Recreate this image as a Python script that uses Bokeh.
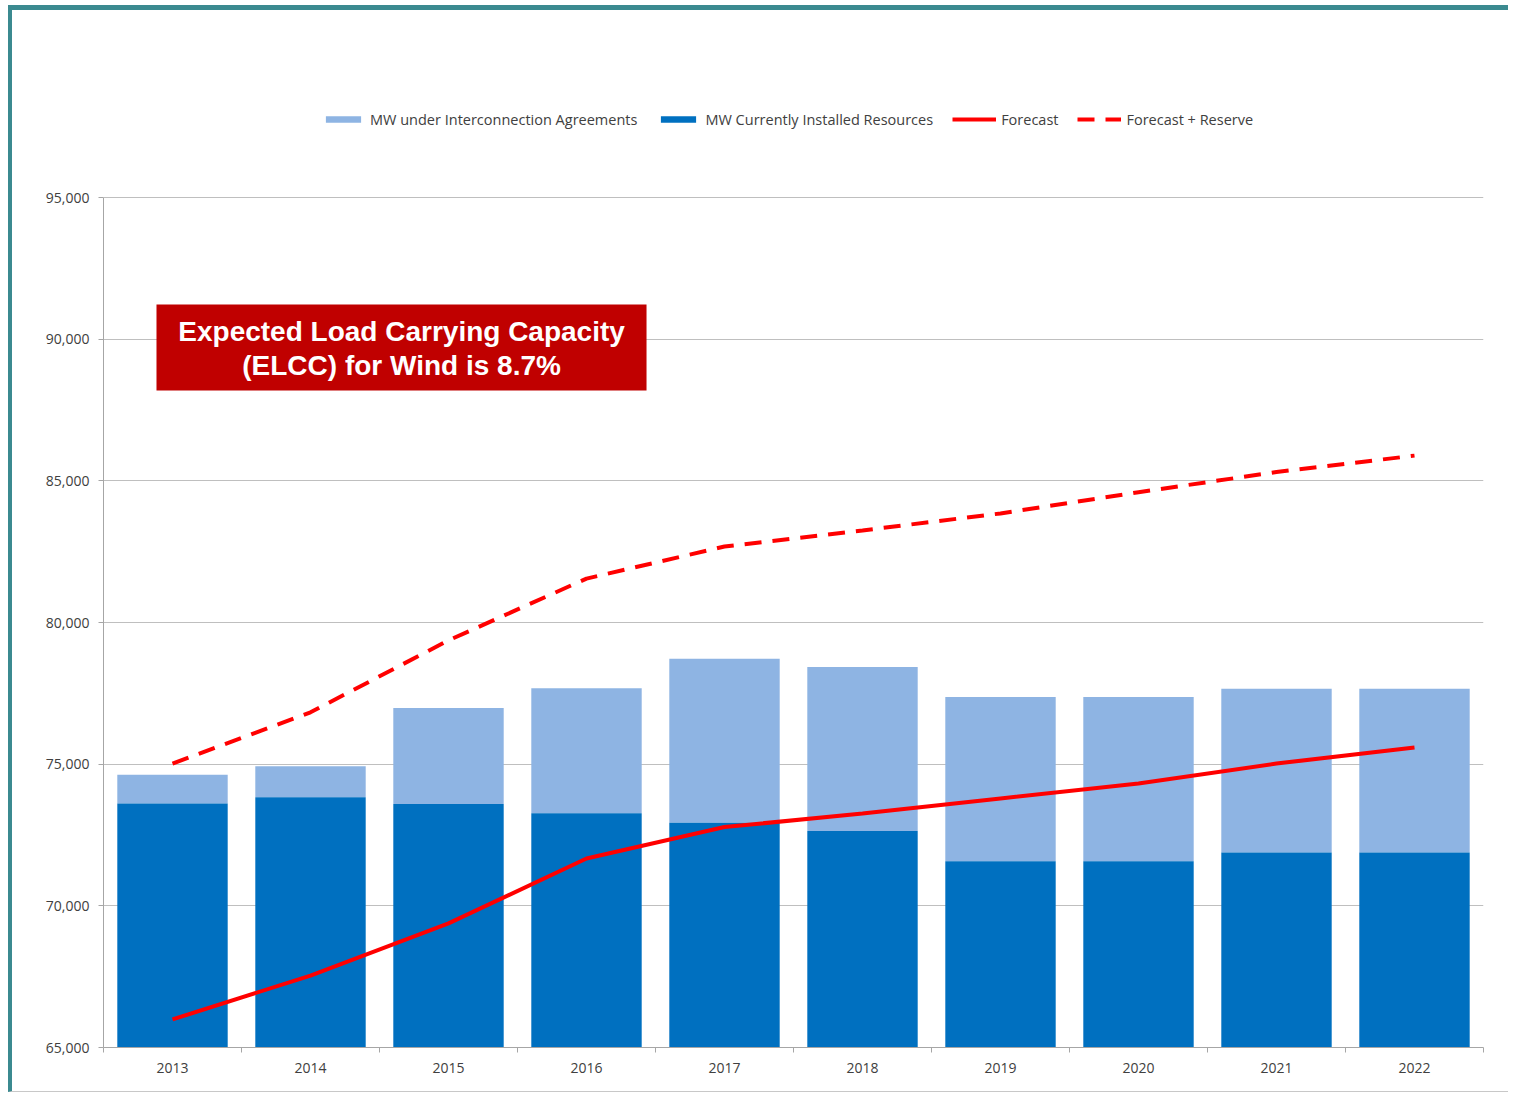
from bokeh.plotting import figure
from bokeh.models import (Range1d, FixedTicker, NumeralTickFormatter, Legend, LegendItem,
                          Label, BoxAnnotation)
from bokeh.embed import file_html
from bokeh.resources import INLINE

# ---- data ----
years = ["2013", "2014", "2015", "2016", "2017", "2018", "2019", "2020", "2021", "2022"]
installed = [73610, 73830, 73590, 73270, 72930, 72640, 71570, 71570, 71880, 71880]
interconnection = [1020, 1100, 3390, 4410, 5790, 5790, 5800, 5800, 5780, 5780]
forecast = [65990, 67540, 69380, 71670, 72780, 73260, 73790, 74320, 75020, 75590]
forecast_reserve = [75020, 76830, 79370, 81550, 82680, 83250, 83850, 84600, 85310, 85890]
y_ticks = [65000, 70000, 75000, 80000, 85000, 90000, 95000]

xs = [i + 0.5 for i in range(len(years))]
stack_top = [a + b for a, b in zip(installed, interconnection)]

FONT = "Open Sans"
TEXT = "#404040"

# frame spans from the canvas top down to the x axis; the y axis itself is bounded to 65k-95k
H = 1087
MB = 50
frame_h = H - MB
y_end = 65000 + frame_h * 30000 / 850.0

p = figure(width=1500, height=H, output_backend="svg", toolbar_location=None,
           x_range=Range1d(0, len(years)), y_range=Range1d(65000, y_end),
           min_border_left=91, min_border_right=29, min_border_top=0, min_border_bottom=MB)
p.styles = {"margin-left": "8px", "margin-top": "5px",
            "border-top": "5px solid #3B8A90", "border-left": "4px solid #3B8A90",
            "border-bottom": "1px solid #C8C8C8"}
p.outline_line_color = None
p.background_fill_color = "white"
p.border_fill_color = "white"

r_light = p.vbar(x=xs, bottom=installed, top=stack_top, width=0.8,
                 fill_color="#8EB4E3", line_color=None)
r_dark = p.vbar(x=xs, bottom=0, top=installed, width=0.8,
                fill_color="#0070C0", line_color=None)
r_fc = p.line(xs, forecast, line_color="#FF0000", line_width=4)
r_fr = p.line(xs, forecast_reserve, line_color="#FF0000", line_width=4, line_dash="17 11")

# axes
xa = p.xaxis[0]
xa.ticker = FixedTicker(ticks=xs, minor_ticks=list(range(len(years) + 1)))
xa.major_label_overrides = {x: y for x, y in zip(xs, years)}
xa.major_tick_out = 0
xa.major_tick_in = 0
xa.minor_tick_out = 5
xa.minor_tick_in = 0
xa.minor_tick_line_color = "#A6A6A6"
xa.axis_line_color = "#A6A6A6"
xa.major_label_text_font = FONT
xa.major_label_text_font_size = "14px"
xa.major_label_text_color = TEXT
xa.major_label_standoff = 10

ya = p.yaxis[0]
ya.ticker = FixedTicker(ticks=y_ticks)
ya.bounds = (65000, 95000)
ya.formatter = NumeralTickFormatter(format="0,0")
ya.major_tick_out = 5
ya.major_tick_in = 0
ya.minor_tick_line_color = None
ya.major_tick_line_color = "#A6A6A6"
ya.axis_line_color = "#A6A6A6"
ya.major_label_text_font = FONT
ya.major_label_text_font_size = "14px"
ya.major_label_text_color = TEXT
ya.major_label_standoff = 9

p.xgrid.grid_line_color = None
p.ygrid.grid_line_color = "#BFBFBF"
p.ygrid.grid_line_width = 1

# legend (inside the frame area, above the 95,000 line)
legend = Legend(items=[
    LegendItem(label="MW under Interconnection Agreements", renderers=[r_light]),
    LegendItem(label="MW Currently Installed Resources", renderers=[r_dark]),
    LegendItem(label="Forecast", renderers=[r_fc]),
    LegendItem(label="Forecast + Reserve", renderers=[r_fr]),
], orientation="horizontal", location=(218, 918), margin=0, padding=5,
    glyph_width=44, glyph_height=8, label_height=20, label_standoff=5, spacing=19,
    label_text_font=FONT, label_text_font_size="14.5px", label_text_color=TEXT,
    background_fill_alpha=0, border_line_color=None)
p.add_layout(legend, "center")

# annotation box
box = BoxAnnotation(left=0.384, right=3.935, bottom=88190, top=91220,
                    fill_color="#C00000", fill_alpha=1.0, line_color=None)
p.add_layout(box)
for txt, yy in [("Expected Load Carrying Capacity", 90270), ("(ELCC) for Wind is 8.7%", 89070)]:
    p.add_layout(Label(x=2.16, y=yy, text=txt, text_align="center", text_baseline="middle",
                       text_font="Liberation Sans", text_font_style="bold",
                       text_font_size="28px", text_color="white"))

open("out.html", "w").write(file_html(p, INLINE))
